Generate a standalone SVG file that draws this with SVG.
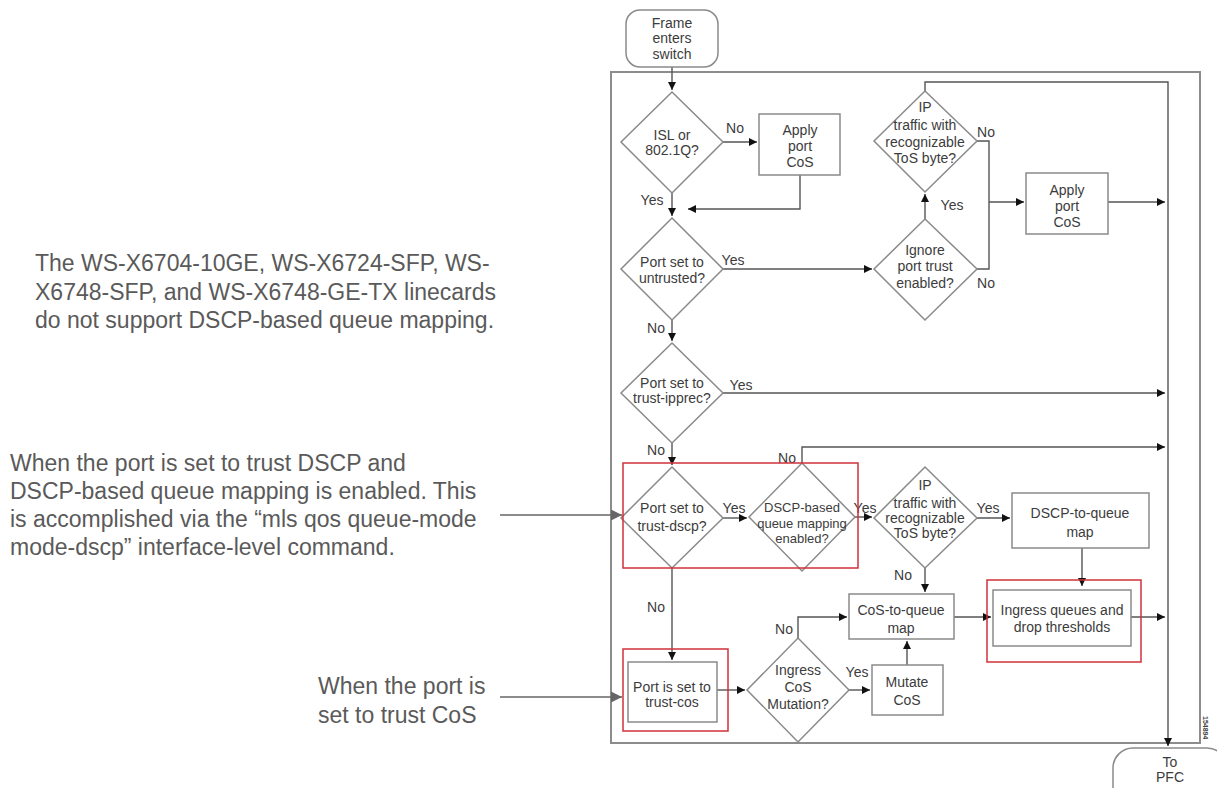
<svg xmlns="http://www.w3.org/2000/svg" width="1217" height="788" viewBox="0 0 1217 788">
<defs>
<marker id="ah" viewBox="0 0 10 10" refX="10" refY="5" markerWidth="8" markerHeight="8" markerUnits="userSpaceOnUse" orient="auto"><path d="M0,0 L10,5 L0,10 z" fill="#111"/></marker>
<marker id="ahg" viewBox="0 0 10 10" refX="10" refY="5" markerWidth="11" markerHeight="11" markerUnits="userSpaceOnUse" orient="auto"><path d="M0,0 L10,5 L0,10 z" fill="#666"/></marker>
</defs>
<style>
.n{fill:#fff;stroke:#8a8a8a;stroke-width:1.5}
.red{fill:none;stroke:#d0303a;stroke-width:1.5}
.t{font-family:"Liberation Sans",Arial,sans-serif;font-size:14px;fill:#3c3c3c;text-anchor:middle}
.s{font-size:13px}
.l{font-family:"Liberation Sans",Arial,sans-serif;font-size:14px;fill:#3c3c3c;text-anchor:middle}
.c{fill:none;stroke:#555;stroke-width:1.4}
.note{font-family:"Liberation Sans",Arial,sans-serif;font-size:23px;fill:#5a5a5a}
.ann{fill:none;stroke:#666;stroke-width:1.5}
</style>
<rect width="1217" height="788" fill="#fff"/>
<rect x="611" y="72" width="589" height="671" fill="none" stroke="#8c8c8c" stroke-width="2"/>
<g id="connectors">
<path class="c" d="M672,67 V90" marker-end="url(#ah)"/>
<path class="c" d="M723,142 H757" marker-end="url(#ah)"/>
<path class="c" d="M800,175 V209 H688" marker-end="url(#ah)"/>
<path class="c" d="M672,193 V216" marker-end="url(#ah)"/>
<path class="c" d="M723,269 H872" marker-end="url(#ah)"/>
<path class="c" d="M925,219 V194" marker-end="url(#ah)"/>
<path class="c" d="M925,91 V82 H1168 V746" marker-end="url(#ah)"/>
<path class="c" d="M977,141 H989 V269 H977"/>
<path class="c" d="M989,202 H1024" marker-end="url(#ah)"/>
<path class="c" d="M1108,202 H1165" marker-end="url(#ah)"/>
<path class="c" d="M672,320 V341" marker-end="url(#ah)"/>
<path class="c" d="M723,393 H1165" marker-end="url(#ah)"/>
<path class="c" d="M672,443 V465" marker-end="url(#ah)"/>
<path class="c" d="M723,518 H747" marker-end="url(#ah)"/>
<path class="c" d="M802,463 V447 H1165" marker-end="url(#ah)"/>
<path class="c" d="M855,517 H872" marker-end="url(#ah)"/>
<path class="c" d="M977,518 H1010" marker-end="url(#ah)"/>
<path class="c" d="M1082,548 V586" marker-end="url(#ah)"/>
<path class="c" d="M925,568 V592" marker-end="url(#ah)"/>
<path class="c" d="M954,617 H991" marker-end="url(#ah)"/>
<path class="c" d="M1131,617 H1165" marker-end="url(#ah)"/>
<path class="c" d="M672,568 V660" marker-end="url(#ah)"/>
<path class="c" d="M717,690 H745" marker-end="url(#ah)"/>
<path class="c" d="M849,690 H870" marker-end="url(#ah)"/>
<path class="c" d="M907,665 V641" marker-end="url(#ah)"/>
<path class="c" d="M798,638 V617 H847" marker-end="url(#ah)"/>
<path class="ann" d="M500,515 H622" marker-end="url(#ahg)"/>
<path class="ann" d="M500,697 H622" marker-end="url(#ahg)"/>
</g>
<g id="labels">
<text class="l" x="735" y="133">No</text>
<text class="l" x="652" y="205">Yes</text>
<text class="l" x="733" y="265">Yes</text>
<text class="l" x="656" y="333">No</text>
<text class="l" x="741" y="390">Yes</text>
<text class="l" x="656" y="455">No</text>
<text class="l" x="787" y="463">No</text>
<text class="l" x="734" y="513">Yes</text>
<text class="l" x="865" y="513">Yes</text>
<text class="l" x="988" y="513">Yes</text>
<text class="l" x="903" y="580">No</text>
<text class="l" x="656" y="612">No</text>
<text class="l" x="784" y="634">No</text>
<text class="l" x="857" y="677">Yes</text>
<text class="l" x="952" y="210">Yes</text>
<text class="l" x="986" y="137">No</text>
<text class="l" x="986" y="288">No</text>
</g>
<g id="start"><rect class="n" x="626" y="10" width="92" height="57" rx="14"/>
<text class="t" x="672" y="28">Frame</text><text class="t" x="672" y="43">enters</text><text class="t" x="672" y="59">switch</text></g>
<g id="isl"><polygon class="n" points="672,92 723,142 672,193 621,142"/>
<text class="t" x="672" y="140">ISL or</text><text class="t" x="672" y="155">802.1Q?</text></g>
<g id="apply1"><rect class="n" x="759" y="114" width="81" height="61"/>
<text class="t" x="800" y="135">Apply</text><text class="t" x="800" y="151">port</text><text class="t" x="800" y="167">CoS</text></g>
<g id="untrusted"><polygon class="n" points="672,218 723,269 672,320 621,269"/>
<text class="t" x="672" y="267">Port set to</text><text class="t" x="672" y="283">untrusted?</text></g>
<g id="iptop"><polygon class="n" points="925,91 977,141 925,192 874,141"/>
<text class="t" x="925" y="112">IP</text><text class="t" x="925" y="130">traffic with</text><text class="t" x="925" y="147">recognizable</text><text class="t" x="925" y="163">ToS byte?</text></g>
<g id="ignore"><polygon class="n" points="925,219 977,269 925,320 874,269"/>
<text class="t" x="925" y="255">Ignore</text><text class="t" x="925" y="271">port trust</text><text class="t" x="925" y="288">enabled?</text></g>
<g id="apply2"><rect class="n" x="1026" y="173" width="82" height="61"/>
<text class="t" x="1067" y="195">Apply</text><text class="t" x="1067" y="211">port</text><text class="t" x="1067" y="227">CoS</text></g>
<g id="ipprec"><polygon class="n" points="672,343 723,393 672,443 621,393"/>
<text class="t" x="672" y="388">Port set to</text><text class="t" x="672" y="403">trust-ipprec?</text></g>
<g id="dscp"><polygon class="n" points="672,467 723,518 672,568 621,518"/>
<text class="t" x="672" y="513">Port set to</text><text class="t" x="672" y="531">trust-dscp?</text></g>
<g id="dscpmap"><polygon class="n" points="802,463 855,517 802,571 749,517"/>
<text class="t s" x="802" y="512">DSCP-based</text><text class="t s" x="802" y="528">queue mapping</text><text class="t s" x="802" y="543">enabled?</text></g>
<g id="iplow"><polygon class="n" points="925,467 977,518 925,568 874,518"/>
<text class="t" x="925" y="490">IP</text><text class="t" x="925" y="508">traffic with</text><text class="t" x="925" y="523">recognizable</text><text class="t" x="925" y="538">ToS byte?</text></g>
<g id="dscpq"><rect class="n" x="1012" y="493" width="137" height="55"/>
<text class="t" x="1080" y="518">DSCP-to-queue</text><text class="t" x="1080" y="537">map</text></g>
<g id="cosq"><rect class="n" x="849" y="594" width="105" height="45"/>
<text class="t" x="901" y="615">CoS-to-queue</text><text class="t" x="901" y="633">map</text></g>
<g id="ingress"><rect class="n" x="993" y="590" width="138" height="56"/>
<text class="t" x="1062" y="615">Ingress queues and</text><text class="t" x="1062" y="632">drop thresholds</text></g>
<g id="trustcos"><rect class="n" x="628" y="662" width="89" height="60"/>
<text class="t" x="672" y="692">Port is set to</text><text class="t" x="672" y="707">trust-cos</text></g>
<g id="mutation"><polygon class="n" points="798,638 849,690 798,742 747,690"/>
<text class="t" x="798" y="675">Ingress</text><text class="t" x="798" y="692">CoS</text><text class="t" x="798" y="709">Mutation?</text></g>
<g id="mutate"><rect class="n" x="872" y="665" width="71" height="50"/>
<text class="t" x="907" y="687">Mutate</text><text class="t" x="907" y="705">CoS</text></g>
<g id="end"><rect class="n" x="1113" y="748" width="114" height="60" rx="20"/>
<text class="t" x="1170" y="767">To</text><text class="t" x="1170" y="782">PFC</text></g>
<g id="highlights">
<rect class="red" x="623" y="463" width="235" height="105"/>
<rect class="red" x="987" y="580" width="154" height="82"/>
<rect class="red" x="623" y="649" width="105" height="82"/>
</g>
<text transform="translate(1203,716) rotate(90)" font-family="Liberation Sans, Arial, sans-serif" font-size="7" font-weight="bold" fill="#444">154894</text>
<g id="note1">
<text class="note" x="35" y="271">The WS-X6704-10GE, WS-X6724-SFP, WS-</text>
<text class="note" x="35" y="300">X6748-SFP, and WS-X6748-GE-TX linecards</text>
<text class="note" x="35" y="328">do not support DSCP-based queue mapping.</text>
</g>
<g id="note2">
<text class="note" x="10" y="471">When the port is set to trust DSCP and</text>
<text class="note" x="10" y="499">DSCP-based queue mapping is enabled.  This</text>
<text class="note" x="10" y="527">is accomplished via the “mls qos queue-mode</text>
<text class="note" x="10" y="555">mode-dscp” interface-level command.</text>
</g>
<g id="note3">
<text class="note" x="318" y="694">When the port is</text>
<text class="note" x="318" y="723">set to trust CoS</text>
</g>
</svg>
